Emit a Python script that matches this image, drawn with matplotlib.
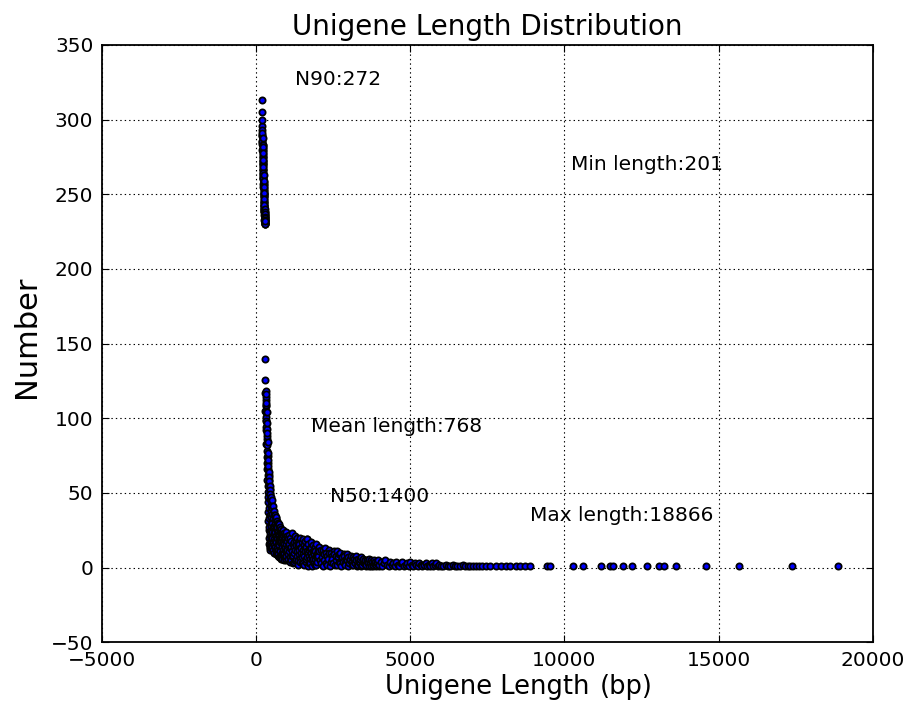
import matplotlib
matplotlib.use("Agg")
import matplotlib.pyplot as plt
import numpy as np

# counts per unigene length (bp), read segment by segment
short_len = [201, 203, 205, 207, 209, 211, 213, 215, 217, 219,
             221, 223, 225, 227, 229, 231, 233, 235, 237, 239,
             241, 243, 245, 247, 249, 251, 253, 255, 257, 259,
             261, 263, 265, 267, 269, 271, 273, 275, 277, 279,
             281, 283, 285, 287, 289, 291, 293, 295, 297, 299]
short_num = [313, 305, 300, 293, 291, 285, 288, 283, 281, 279,
             282, 276, 274, 278, 271, 269, 273, 266, 264, 268,
             262, 260, 263, 258, 256, 259, 254, 252, 255, 250,
             248, 251, 246, 244, 247, 242, 241, 243, 239, 238,
             240, 236, 235, 237, 233, 232, 234, 231, 230, 232]

short2_len = [202, 204, 206, 208, 210, 212, 214, 216, 218, 220,
              222, 224, 226, 228, 230, 232, 234, 236, 238, 240,
              242, 244, 246, 248, 250, 252, 254, 256, 258, 260,
              262, 264, 266, 268, 270, 272, 274, 276, 278, 280,
              282, 284, 286, 288, 290, 292, 294, 296, 298]
short2_num = [296, 289, 284, 290, 280, 286, 277, 283, 272, 280,
              270, 275, 267, 272, 263, 270, 261, 266, 257, 264,
              255, 261, 251, 257, 249, 253, 245, 250, 243, 249,
              240, 245, 238, 242, 236, 240, 233, 239, 231, 236,
              234, 230, 238, 233, 231, 235, 232, 230, 233]

steep_len = [300, 305, 310, 315, 320, 325, 330, 335, 340, 345,
             350, 355, 360, 365, 370, 375, 380, 385, 390, 395,
             400, 405, 410, 415, 420, 425, 430, 435, 440, 445,
             450, 455, 460, 465, 470, 475, 480, 485, 490, 495, 500]
steep_num = [140, 126, 118, 114, 108, 116, 101, 110, 94, 104,
             86, 97, 78, 90, 70, 84, 62, 77, 55, 72,
             47, 68, 40, 64, 33, 61, 27, 58, 22, 55,
             17, 52, 13, 49, 12, 44, 30, 47, 20, 38, 14]

steep2_len = [302, 307, 312, 317, 322, 327, 332, 337, 342, 347,
              352, 357, 362, 367, 372, 377, 382, 387, 392, 397,
              402, 407, 412, 417, 422, 427, 432, 437, 442, 447,
              452, 457, 462, 467, 472, 477, 482, 487, 492, 497]
steep2_num = [117, 105, 112, 99, 109, 92, 104, 83, 98, 74,
              93, 66, 88, 59, 82, 51, 75, 44, 70, 37,
              66, 31, 62, 25, 59, 20, 56, 16, 53, 14,
              50, 24, 46, 35, 18, 41, 25, 13, 34, 28]

knee_len = [510, 520, 530, 540, 550, 560, 570, 580, 590, 600,
            610, 620, 630, 640, 650, 660, 670, 680, 690, 700,
            710, 720, 730, 740, 750, 760, 770, 780, 790, 800,
            810, 820, 830, 840, 850, 860, 870, 880, 890, 900,
            910, 920, 930, 940, 950, 960, 970, 980, 990, 1000]
knee_num = [45, 20, 36, 11, 41, 27, 15, 38, 23, 10,
            35, 18, 29, 9, 33, 21, 13, 31, 25, 8,
            30, 16, 22, 7, 29, 19, 12, 27, 17, 6,
            26, 21, 10, 24, 14, 6, 25, 18, 9, 23,
            15, 5, 22, 12, 19, 5, 24, 16, 8, 21]

knee2_len = [505, 515, 525, 535, 545, 555, 565, 575, 585, 595,
             605, 615, 625, 635, 645, 655, 665, 675, 685, 695,
             705, 715, 725, 735, 745, 755, 765, 775, 785, 795,
             805, 815, 825, 835, 845, 855, 865, 875, 885, 895,
             905, 915, 925, 935, 945, 955, 965, 975, 985, 995]
knee2_num = [30, 14, 40, 24, 17, 33, 12, 28, 35, 19,
             14, 31, 24, 12, 28, 17, 34, 10, 20, 27,
             12, 24, 9, 28, 15, 22, 8, 20, 24, 11,
             18, 8, 23, 15, 20, 9, 17, 12, 22, 7,
             19, 10, 16, 20, 7, 14, 11, 18, 6, 13]

mid_len = [1020, 1040, 1060, 1080, 1100, 1120, 1140, 1160, 1180, 1200,
           1220, 1240, 1260, 1280, 1300, 1320, 1340, 1360, 1380, 1400,
           1420, 1440, 1460, 1480, 1500, 1520, 1540, 1560, 1580, 1600,
           1620, 1640, 1660, 1680, 1700, 1720, 1740, 1760, 1780, 1800,
           1820, 1840, 1860, 1880, 1900, 1920, 1940, 1960, 1980, 2000]
mid_num = [18, 6, 22, 11, 4, 20, 14, 8, 23, 3,
           17, 10, 21, 5, 15, 20, 8, 2, 18, 12,
           6, 20, 14, 3, 17, 9, 19, 2, 13, 18,
           6, 19, 11, 1, 16, 8, 13, 3, 17, 10,
           1, 15, 6, 12, 2, 14, 8, 16, 4, 11]

mid2_len = [1010, 1030, 1050, 1070, 1090, 1110, 1130, 1150, 1170, 1190,
            1210, 1230, 1250, 1270, 1290, 1310, 1330, 1350, 1370, 1390,
            1410, 1430, 1450, 1470, 1490, 1510, 1530, 1550, 1570, 1590,
            1610, 1630, 1650, 1670, 1690, 1710, 1730, 1750, 1770, 1790,
            1810, 1830, 1850, 1870, 1890, 1910, 1930, 1950, 1970, 1990]
mid2_num = [12, 20, 9, 16, 7, 13, 18, 5, 11, 16,
            8, 14, 4, 12, 17, 6, 11, 15, 5, 9,
            16, 4, 10, 13, 7, 12, 3, 15, 8, 11,
            4, 14, 19, 7, 10, 3, 12, 6, 9, 13,
            5, 8, 11, 3, 9, 6, 11, 2, 9, 7]

long_len = [2040, 2080, 2120, 2160, 2200, 2240, 2280, 2320, 2360, 2400,
            2440, 2480, 2520, 2560, 2600, 2640, 2680, 2720, 2760, 2800,
            2840, 2880, 2920, 2960, 3000, 3040, 3080, 3120, 3160, 3200,
            3240, 3280, 3320, 3360, 3400, 3440, 3480, 3520, 3560, 3600,
            3640, 3680, 3720, 3760, 3800, 3840, 3880, 3920, 3960, 4000]
long_num = [14, 5, 12, 1, 9, 13, 3, 8, 12, 1,
            10, 6, 11, 2, 8, 11, 4, 10, 1, 7,
            9, 3, 6, 9, 1, 5, 8, 2, 7, 4,
            8, 1, 6, 3, 7, 2, 6, 4, 1, 5,
            3, 6, 1, 4, 2, 5, 1, 3, 5, 2]

long2_len = [2020, 2060, 2100, 2140, 2180, 2220, 2260, 2300, 2340, 2380,
             2420, 2460, 2500, 2540, 2580, 2620, 2660, 2700, 2740, 2780,
             2820, 2860, 2900, 2940, 2980, 3020, 3060, 3100, 3140, 3180,
             3220, 3260, 3300, 3340, 3380, 3420, 3460, 3500, 3540, 3580,
             3620, 3660, 3700, 3740, 3780, 3820, 3860, 3900, 3940, 3980]
long2_num = [8, 11, 3, 7, 12, 5, 10, 2, 6, 10,
             4, 8, 3, 9, 5, 2, 7, 9, 3, 6,
             4, 8, 2, 5, 7, 3, 6, 4, 2, 6,
             3, 5, 2, 4, 6, 1, 4, 3, 5, 2,
             4, 1, 3, 5, 1, 3, 4, 2, 4, 1]

flat_len = [4050, 4100, 4150, 4200, 4250, 4300, 4350, 4400, 4450, 4500,
            4550, 4600, 4650, 4700, 4750, 4800, 4850, 4900, 4950, 5000,
            5050, 5100, 5150, 5200, 5250, 5300, 5350, 5400, 5450, 5500,
            5550, 5600, 5650, 5700, 5750, 5800, 5850, 5900, 5950, 6000]
flat_num = [4, 1, 3, 5, 2, 1, 4, 2, 3, 1,
            4, 2, 1, 3, 4, 1, 2, 3, 1, 4,
            2, 1, 3, 2, 1, 3, 2, 1, 2, 3,
            1, 2, 1, 3, 1, 2, 3, 1, 2, 1]

tail_len = [6080, 6150, 6230, 6300, 6380, 6450, 6530, 6610, 6700, 6780,
            6860, 6950, 7040, 7130, 7230, 7330, 7450, 7600, 7780, 7930,
            8100, 8250, 8420, 8560, 8720, 8880,
            9430, 9540, 10290, 10600, 11190, 11480, 11590, 11890, 12200,
            12690, 13070, 13230, 13610, 14590, 15670, 17370, 18866]
tail_num = [1, 2, 1, 1, 2, 1, 1, 1, 2, 1,
            1, 1, 1, 1, 1, 1, 1, 1, 1, 1,
            1, 1, 1, 1, 1, 1,
            1, 1, 1, 1, 1, 1, 1, 1, 1,
            1, 1, 1, 1, 1, 1, 1, 1]

stats = ["N90:272", "Min length:201", "Mean length:768", "N50:1400", "Max length:18866"]
stat_pos = [(1270, 323), (10220, 266), (1790, 91), (2390, 44), (8890, 31)]

lengths = np.array(short_len + short2_len + steep_len + steep2_len + knee_len + knee2_len
                   + mid_len + mid2_len + long_len + long2_len + flat_len + tail_len)
numbers = np.array(short_num + short2_num + steep_num + steep2_num + knee_num + knee2_num
                   + mid_num + mid2_num + long_num + long2_num + flat_num + tail_num)
order = np.argsort(lengths, kind='stable')
lengths, numbers = lengths[order], numbers[order]

plt.rcParams['lines.scale_dashes'] = False

fig = plt.figure(figsize=(9.06, 7.02), dpi=100)
fig.patch.set_facecolor('white')
ax = fig.add_axes([0.1123, 0.0850, 0.8510, 0.8509])

ax.scatter(lengths, numbers, s=20, c='#0000ff', edgecolors='black', linewidths=1.3, zorder=3)

ax.set_xlim(-5000, 20000)
ax.set_ylim(-50, 350)
ax.set_xticks(np.arange(-5000, 20001, 5000))
ax.set_yticks(np.arange(-50, 351, 50))
ax.grid(True, color='black', linestyle=(0, (1, 2.2)), linewidth=0.8, zorder=0)
for sp in ax.spines.values():
    sp.set_linewidth(1.3)
ax.tick_params(direction='in', top=True, right=True, length=5, width=0.8,
               labelsize=14.5, pad=6)

for txt, (x, y) in zip(stats, stat_pos):
    ax.text(x, y, txt, fontsize=14.5, va='baseline', ha='left')

ax.set_title("Unigene Length Distribution", fontsize=20, pad=7)
fig.text(487 / 906, 8 / 702, "Unigene Length", fontsize=18.5, ha='center', va='baseline')
fig.text(600 / 906, 8 / 702, "(bp)", fontsize=18.5, ha='left', va='baseline')
fig.text(26 / 906, 1 - 337 / 702, "Number", fontsize=22, rotation=90, ha='center', va='center')

fig.savefig("out.png", dpi=100, facecolor='white')
